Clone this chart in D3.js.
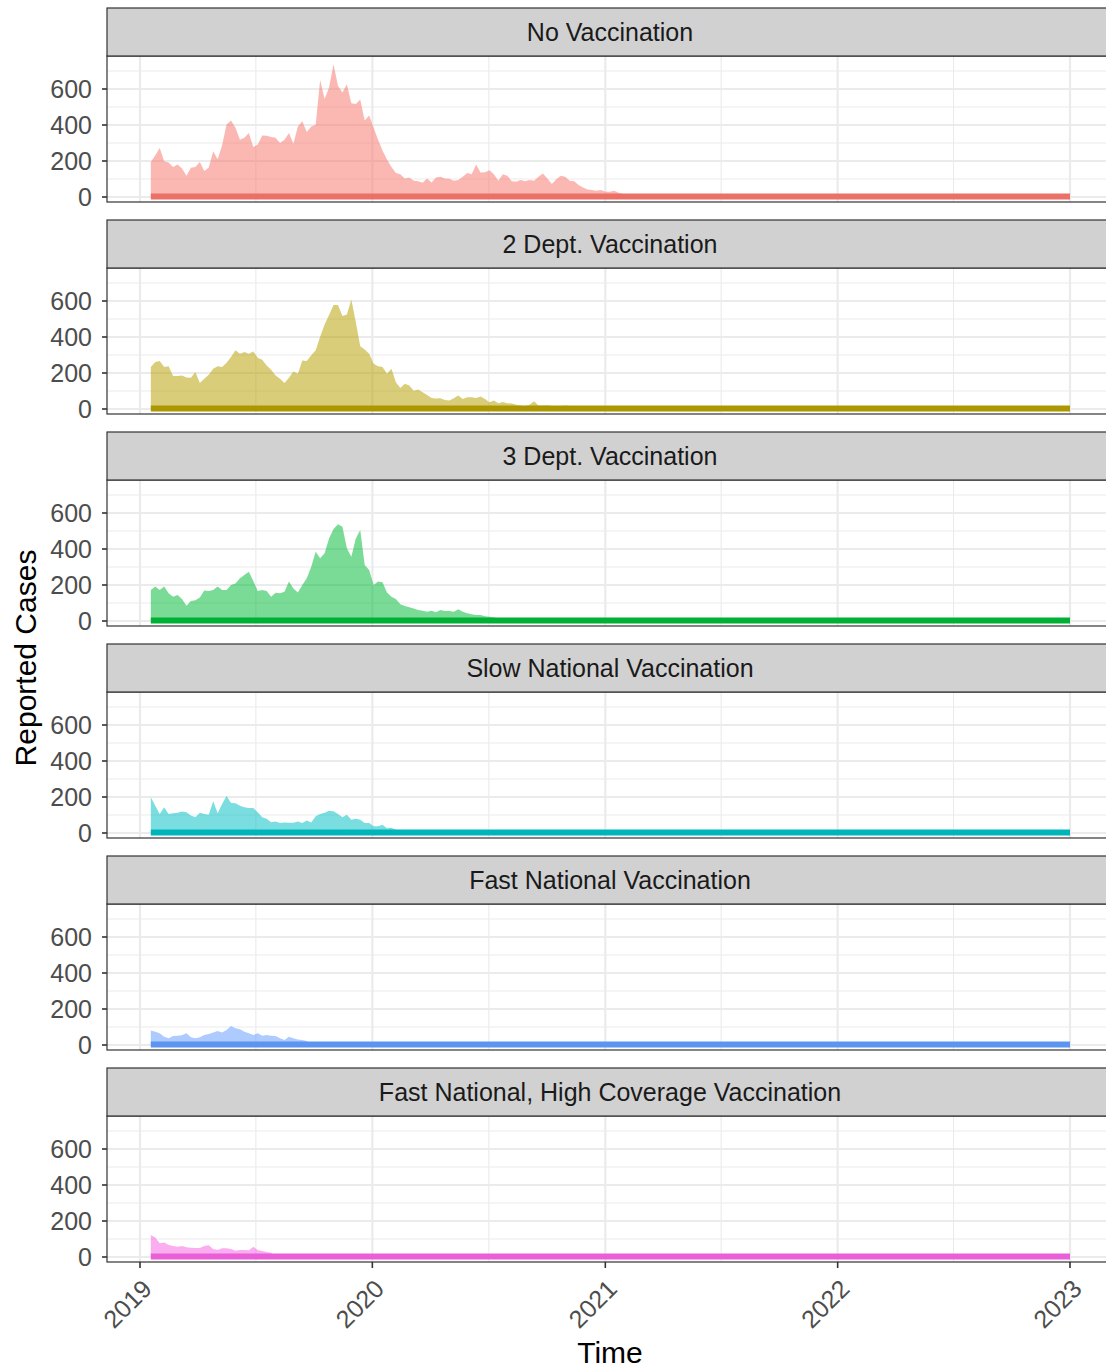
<!DOCTYPE html>
<html>
<head>
<meta charset="utf-8">
<script src="https://cdn.jsdelivr.net/npm/d3@7"></script>
<style>
  body { margin: 0; background: #fff; }
  svg { display: block; font-family: "Liberation Sans", Arial, sans-serif; }
</style>
</head>
<body>
<svg id="chart" width="1106" height="1370"></svg>
<script>
// facet labels and ggplot hue colours
const scenarios = [
  'No Vaccination',
  '2 Dept. Vaccination',
  '3 Dept. Vaccination',
  'Slow National Vaccination',
  'Fast National Vaccination',
  'Fast National, High Coverage Vaccination',
];
const colors = ['#F8766D', '#B79F00', '#00BA38', '#00BFC4', '#619CFF', '#F564E3'];

// weekly reported cases, first week of 2019 onwards
const firstWeek = new Date(2019, 0, 18);
const lastDay = new Date(2023, 0, 1);

const noVaccination = [195, 232, 272, 199, 191, 167, 180, 158, 118, 162, 167, 195, 145, 164, 254, 210,
  287, 403, 425, 385, 318, 329, 355, 278, 291, 342, 340, 333, 329, 300, 318, 355, 296, 392, 421, 361,
  392, 401, 650, 545, 609, 738, 618, 581, 627, 521, 517, 541, 425, 453, 385, 318, 259, 208, 167, 134,
  127, 103, 109, 90, 88, 79, 103, 81, 109, 112, 103, 101, 90, 94, 112, 134, 127, 180, 136, 138, 149,
  127, 90, 127, 118, 88, 85, 94, 88, 94, 90, 112, 131, 103, 72, 99, 118, 112, 90, 88, 66, 53, 42, 39,
  35, 39, 29, 29, 35, 24, 17];
const dept2 = [233, 261, 266, 233, 237, 183, 184, 186, 175, 173, 205, 145, 168, 190, 224, 237, 233, 257,
  289, 326, 307, 317, 307, 319, 285, 274, 242, 218, 186, 168, 145, 173, 209, 196, 270, 266, 298, 326,
  401, 469, 522, 578, 578, 516, 525, 609, 484, 348, 330, 307, 252, 237, 233, 196, 224, 149, 116, 140,
  130, 102, 108, 93, 78, 61, 58, 60, 50, 47, 60, 75, 56, 65, 65, 61, 69, 56, 37, 47, 32, 39, 32, 30,
  24, 19, 17, 24, 43, 19, 19, 21, 17, 15, 15, 19, 17, 15, 15, 13, 13, 13, 13, 12, 12, 12, 12];
const dept3 = [172, 191, 172, 191, 154, 135, 144, 122, 85, 111, 115, 130, 169, 167, 172, 191, 172, 172,
  200, 209, 237, 256, 274, 222, 167, 172, 167, 135, 157, 154, 163, 219, 181, 159, 200, 237, 302, 385,
  348, 376, 459, 511, 537, 524, 404, 357, 459, 506, 311, 283, 200, 219, 215, 159, 135, 122, 93, 83, 76,
  70, 61, 57, 52, 57, 48, 61, 56, 56, 52, 65, 52, 43, 37, 33, 33, 26, 24, 20, 15];
const slowNational = [198, 152, 106, 143, 106, 110, 112, 119, 115, 97, 88, 112, 106, 102, 176, 110, 161,
  205, 166, 165, 152, 143, 139, 139, 115, 88, 79, 60, 64, 55, 59, 57, 57, 64, 55, 70, 59, 93, 106, 112,
  124, 121, 106, 88, 102, 73, 79, 73, 55, 55, 37, 37, 46, 27, 29, 18];
const fastNational = [80, 74, 65, 46, 37, 50, 52, 54, 65, 43, 37, 43, 56, 61, 69, 78, 70, 83, 106, 93, 87,
  74, 65, 56, 65, 52, 56, 52, 50, 37, 28, 46, 37, 31, 28, 22];
const fastHighCoverage = [122, 109, 76, 80, 67, 61, 57, 61, 54, 52, 50, 50, 61, 65, 44, 39, 48, 48, 44, 35,
  39, 39, 37, 57, 39, 33, 28, 24];

const seriesList = [noVaccination, dept2, dept3, slowNational, fastNational, fastHighCoverage];

const yTicks = [0, 200, 400, 600];
const yMinor = [100, 300, 500, 700];
const yearTicks = [2019, 2020, 2021, 2022, 2023];
const halfYears = [2019, 2020, 2021, 2022];

const svg = d3.select('#chart');
const panelLeft = 107;
const panelRight = 1113;
const panelW = panelRight - panelLeft;
const firstTop = 8;
const stripH = 48;
const plotH = 146;
const stride = 212;

// x in panel-local coordinates
const x = d3.scaleTime()
  .domain([new Date(2019, 0, 1), new Date(2023, 0, 1)])
  .range([140 - panelLeft, 1070 - panelLeft]);
const y = d3.scaleLinear().domain([0, 600]).range([141, 33]);

const area = d3.area()
  .x(d => x(d.date))
  .y0(y(0))
  .y1(d => y(d.value));

svg.append('defs').append('clipPath').attr('id', 'plotClip')
  .append('rect').attr('width', panelW).attr('height', plotH);

seriesList.forEach((values, i) => {
  const top = firstTop + i * stride;
  const g = svg.append('g').attr('transform', `translate(${panelLeft},${top + stripH})`);

  const pts = values.map((v, k) => ({ date: d3.timeDay.offset(firstWeek, 7 * k), value: v }));
  pts.push({ date: d3.timeDay.offset(firstWeek, 7 * values.length), value: 0 });

  g.append('rect').attr('width', panelW).attr('height', plotH).attr('fill', '#fff');

  const grid = g.append('g').attr('clip-path', 'url(#plotClip)');
  grid.selectAll('.hmin').data(yMinor).enter().append('line')
    .attr('x1', 0).attr('x2', panelW)
    .attr('y1', d => y(d)).attr('y2', d => y(d))
    .attr('stroke', '#EBEBEB').attr('stroke-width', 1.1);
  grid.selectAll('.vmin').data(halfYears).enter().append('line')
    .attr('x1', d => x(new Date(d, 6, 2))).attr('x2', d => x(new Date(d, 6, 2)))
    .attr('y1', 0).attr('y2', plotH)
    .attr('stroke', '#EBEBEB').attr('stroke-width', 1.1);
  grid.selectAll('.hmaj').data(yTicks).enter().append('line')
    .attr('x1', 0).attr('x2', panelW)
    .attr('y1', d => y(d)).attr('y2', d => y(d))
    .attr('stroke', '#EBEBEB').attr('stroke-width', 2.2);
  grid.selectAll('.vmaj').data(yearTicks).enter().append('line')
    .attr('x1', d => x(new Date(d, 0, 1))).attr('x2', d => x(new Date(d, 0, 1)))
    .attr('y1', 0).attr('y2', plotH)
    .attr('stroke', '#EBEBEB').attr('stroke-width', 2.2);

  grid.append('path').datum(pts)
    .attr('d', area)
    .attr('fill', colors[i]).attr('fill-opacity', 0.52);

  grid.append('line')
    .attr('x1', x(firstWeek)).attr('x2', x(lastDay))
    .attr('y1', y(3)).attr('y2', y(3))
    .attr('stroke', d3.color(colors[i]).darker(0.15)).attr('stroke-width', 6);

  g.append('rect').attr('width', panelW).attr('height', plotH)
    .attr('fill', 'none').attr('stroke', '#333').attr('stroke-width', 1.2);

  // y axis
  const ya = g.append('g');
  ya.selectAll('line').data(yTicks).enter().append('line')
    .attr('x1', -5).attr('x2', 0)
    .attr('y1', d => y(d)).attr('y2', d => y(d))
    .attr('stroke', '#333').attr('stroke-width', 1.6);
  ya.selectAll('text').data(yTicks).enter().append('text')
    .attr('x', -15).attr('y', d => y(d))
    .attr('text-anchor', 'end').attr('dominant-baseline', 'central')
    .attr('fill', '#4D4D4D').attr('font-size', 25)
    .text(d => d);

  // strip
  svg.append('rect')
    .attr('x', panelLeft).attr('y', top)
    .attr('width', panelW).attr('height', stripH)
    .attr('fill', '#D1D1D1').attr('stroke', '#333').attr('stroke-width', 1.2);
  svg.append('text')
    .attr('x', 610).attr('y', top + stripH / 2)
    .attr('text-anchor', 'middle').attr('dominant-baseline', 'central')
    .attr('fill', '#1A1A1A').attr('font-size', 25)
    .text(scenarios[i]);
});

// x axis under the last panel
const lastBottom = firstTop + 5 * stride + stripH + plotH;
const xa = svg.append('g').attr('transform', `translate(${panelLeft},${lastBottom})`);
xa.selectAll('line').data(yearTicks).enter().append('line')
  .attr('x1', d => x(new Date(d, 0, 1))).attr('x2', d => x(new Date(d, 0, 1)))
  .attr('y1', 0).attr('y2', 6)
  .attr('stroke', '#333').attr('stroke-width', 1.6);
xa.selectAll('text').data(yearTicks).enter().append('text')
  .attr('transform', d => `translate(${x(new Date(d, 0, 1)) + 7},${22}) rotate(-45)`)
  .attr('text-anchor', 'end').attr('dominant-baseline', 'central')
  .attr('fill', '#4D4D4D').attr('font-size', 25)
  .text(d => d);

svg.append('text')
  .attr('x', 610).attr('y', 1363)
  .attr('text-anchor', 'middle')
  .attr('fill', '#000').attr('font-size', 30)
  .text('Time');

svg.append('text')
  .attr('transform', 'translate(25,658) rotate(-90)')
  .attr('text-anchor', 'middle').attr('dominant-baseline', 'central')
  .attr('fill', '#000').attr('font-size', 30)
  .text('Reported Cases');
</script>
</body>
</html>
